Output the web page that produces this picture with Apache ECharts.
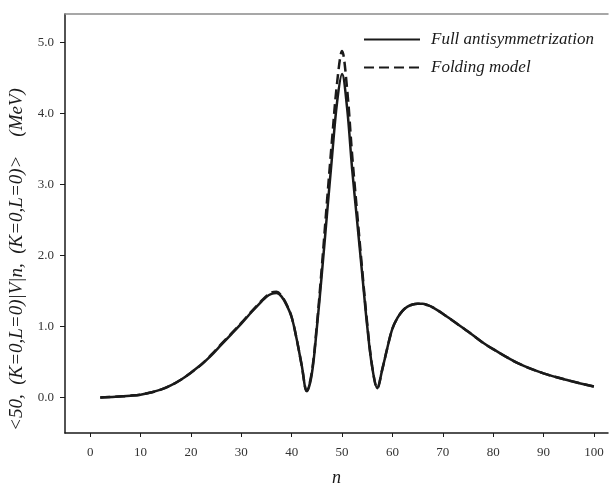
<!DOCTYPE html>
<html>
<head>
<meta charset="utf-8">
<script src="https://cdn.jsdelivr.net/npm/echarts@6/dist/echarts.min.js"></script>
<style>
  html, body { margin: 0; padding: 0; background: #fff; }
  #chart { width: 609px; height: 497px; }
</style>
</head>
<body>
<div id="chart"></div>
<script>
// Matrix element <50|V|n> against oscillator quantum number n
const nValues = [2, 5, 8, 10, 12, 14, 16, 18, 20, 22, 24, 26, 28, 30, 32, 34, 35, 36, 37, 38, 39, 40, 41, 42, 43,
  44, 45, 46, 47, 48, 49, 50, 51, 52, 53, 54, 55, 56, 57,
  58, 59, 60, 61, 62, 63, 64, 65, 66, 67, 68, 70, 72, 75, 78, 80, 85, 90, 95, 100];

const fullAntisym = [0.0, 0.01, 0.025, 0.04, 0.07, 0.11, 0.17, 0.25, 0.35, 0.46, 0.59, 0.74, 0.89, 1.04, 1.2, 1.35, 1.42, 1.46, 1.47, 1.42, 1.3, 1.13, 0.82, 0.45, 0.09,
  0.33, 0.98, 1.75, 2.57, 3.38, 4.15, 4.556, 4.08, 3.22, 2.48, 1.74, 1.0, 0.42, 0.13,
  0.4, 0.7, 0.97, 1.12, 1.22, 1.28, 1.31, 1.32, 1.32, 1.3, 1.27, 1.18, 1.08, 0.93, 0.77, 0.68, 0.48, 0.34, 0.24, 0.155];

const foldingModel = [0.0, 0.01, 0.025, 0.04, 0.07, 0.11, 0.17, 0.25, 0.35, 0.46, 0.6, 0.75, 0.9, 1.05, 1.21, 1.36, 1.43, 1.48, 1.49, 1.43, 1.31, 1.13, 0.82, 0.45, 0.09,
  0.36, 1.02, 1.85, 2.75, 3.62, 4.42, 4.88, 4.35, 3.42, 2.6, 1.8, 1.04, 0.43, 0.13,
  0.4, 0.7, 0.97, 1.12, 1.22, 1.28, 1.31, 1.32, 1.32, 1.3, 1.27, 1.18, 1.08, 0.93, 0.77, 0.68, 0.48, 0.34, 0.24, 0.155];

const xTicks = [0, 10, 20, 30, 40, 50, 60, 70, 80, 90, 100];
const yTicks = [0, 1, 2, 3, 4, 5];

const seriesNames = ['Full antisymmetrization', 'Folding model'];

const pairs = (ys) => nValues.map((n, i) => [n, ys[i]]);

const serif = 'Liberation Serif, Times New Roman, serif';
const ink = '#1a1a1a';
const X_MIN = -5, X_MAX = 102.8;

const chart = echarts.init(document.getElementById('chart'), null, { renderer: 'canvas' });

chart.setOption({
  animation: false,
  backgroundColor: '#fff',
  grid: { left: 65, top: 14, right: 1, bottom: 64, show: false, containLabel: false, outerBoundsMode: 'none' },
  legend: {
    left: 358, top: 26, orient: 'vertical',
    itemWidth: 56, itemHeight: 14, itemGap: 11,
    itemStyle: { opacity: 0 },
    textStyle: { fontFamily: serif, fontStyle: 'italic', fontSize: 17, color: ink, padding: [0, 0, 0, 6] },
    data: seriesNames
  },
  xAxis: [
    {
      type: 'value', min: X_MIN, max: X_MAX,
      name: 'n', nameLocation: 'middle', nameGap: 36,
      nameTextStyle: { fontFamily: serif, fontStyle: 'italic', fontSize: 18, color: ink },
      axisLine: { show: true, onZero: false, lineStyle: { color: ink, width: 1.5 } },
      axisTick: { show: true, length: 4, customValues: xTicks, lineStyle: { color: ink, width: 1 } },
      axisLabel: { customValues: xTicks, margin: 13, fontFamily: serif, fontSize: 13, color: '#333' },
      splitLine: { show: false }
    },
    {
      // plain frame line along the top edge
      type: 'value', position: 'top', min: X_MIN, max: X_MAX,
      axisLine: { show: true, onZero: false, lineStyle: { color: '#8a8a8a', width: 1.5 } },
      axisTick: { show: false }, axisLabel: { show: false }, splitLine: { show: false }
    }
  ],
  yAxis: {
    type: 'value', min: -0.5, max: 5.4,
    name: '<50,  (K=0,L=0)|V|n,  (K=0,L=0)>    (MeV)', nameLocation: 'middle', nameGap: 38,
    nameTextStyle: {
      fontFamily: serif, fontStyle: 'italic', fontSize: 19, color: ink,
      padding: [0, 72, 0, 0]
    },
    axisLine: { show: true, onZero: false, lineStyle: { color: ink, width: 1.5 } },
    axisTick: { show: true, length: 5, customValues: yTicks, lineStyle: { color: ink, width: 1 } },
    axisLabel: {
      customValues: yTicks, margin: 11, fontFamily: serif, fontSize: 13, color: '#333',
      formatter: (v) => v.toFixed(1)
    },
    splitLine: { show: false }
  },
  series: [
    {
      name: seriesNames[0], type: 'line', data: pairs(fullAntisym),
      smooth: 0.35, symbol: 'none', z: 3,
      lineStyle: { color: ink, width: 2.5, type: 'solid' },
      itemStyle: { color: ink }
    },
    {
      name: seriesNames[1], type: 'line', data: pairs(foldingModel),
      smooth: 0.35, symbol: 'none', z: 2,
      lineStyle: { color: ink, width: 2.5, type: [10, 5] },
      itemStyle: { color: ink }
    }
  ]
});
</script>
</body>
</html>
